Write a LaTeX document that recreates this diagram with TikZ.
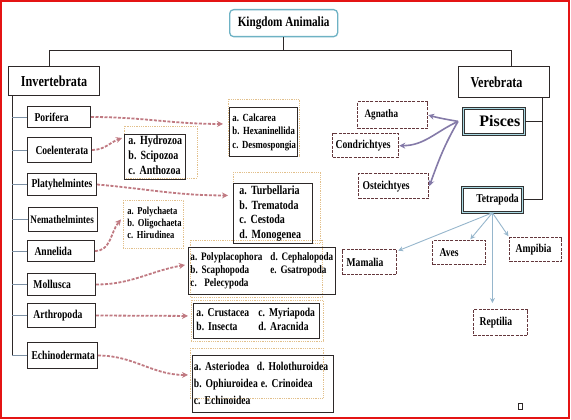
\documentclass[tikz,border=0pt]{standalone}
\usepackage{fontspec}
\setmainfont{Liberation Serif}[FakeStretch=0.8]
\newfontfamily\widefont{Liberation Serif}
\usetikzlibrary{arrows.meta}
\definecolor{rimred}{RGB}{228,20,20}
\definecolor{tealrim}{RGB}{110,178,196}
\definecolor{tealfill}{RGB}{170,218,228}
\definecolor{darkrim}{RGB}{45,40,40}
\definecolor{maroonrim}{RGB}{100,55,60}
\definecolor{twiggrey}{RGB}{125,145,165}
\definecolor{linkrose}{RGB}{192,122,130}
\definecolor{fanviolet}{RGB}{132,122,168}
\definecolor{fanblue}{RGB}{150,182,204}
\definecolor{dotorange}{RGB}{226,192,140}
\newcommand{\listrows}[1]{\begin{tabular}{@{}l@{}}#1\end{tabular}}
\tikzset{
  every node/.style={execute at begin node={\frenchspacing\hyphenpenalty=10000}},
  trunk/.style={draw=darkrim, line width=0.9pt},
  twig/.style={draw=twiggrey, line width=0.9pt},
  root/.style={draw=tealrim, line width=1.3pt, rounded corners=4pt, fill=white, inner sep=0pt, font=\bfseries\fontsize{14}{16}\selectfont},
  phylum/.style={draw=darkrim, line width=1.1pt, fill=white, inner sep=0pt, font=\bfseries\fontsize{15.2}{17}\selectfont},
  leaf/.style={draw=darkrim, line width=1pt, align=left, inner ysep=0pt, font=\bfseries\fontsize{12}{14}\selectfont},
  fishbox/.style={leaf, draw=maroonrim, line width=1.3pt, dash pattern=on 3pt off 1.2pt},
  clade/.style={leaf, draw=black!80, line width=0.8pt, double=tealfill, double distance=1.6pt},
  roster/.style={draw=darkrim, line width=0.9pt, align=left, inner ysep=0pt},
  dotframe/.style={draw=dotorange, line width=0.8pt, densely dotted},
  link/.style={draw=linkrose, line width=1.8pt, dash pattern=on 3pt off 1.5pt, -{Stealth[length=6pt,width=6pt]}},
  fan/.style={draw=fanviolet, line width=1.6pt, -{Stealth[length=6pt,width=6pt]}},
  spray/.style={draw=fanblue, line width=0.9pt, shorten >=1pt, -{Stealth[length=5pt,width=5pt]}},
}

\begin{document}
\begin{tikzpicture}[x=1pt,y=-1pt]
\useasboundingbox (0,0) rectangle (571,420);
\draw[dotframe] (228,99) rectangle (299,156);
\draw[dotframe] (124,126) rectangle (197,178);
\draw[dotframe] (233,172) rectangle (320,243);
\draw[dotframe] (190,240) rectangle (322,297);
\draw[dotframe] (191,300) rectangle (323,341);
\draw[dotframe] (190,348) rectangle (323,398);

\node[root, anchor=north west, minimum width=108pt, minimum height=27pt] (kingdom) at (229,9) {Kingdom Animalia};
\node[phylum, anchor=north west, minimum width=91pt, minimum height=29pt] (inv) at (8,66) {Invertebrata};
\node[phylum, anchor=north west, align=left, inner xsep=12pt, text width=67pt, minimum height=31pt] (vert) at (458,66) {Verebrata};

\node[leaf, anchor=north west, inner xsep=7pt, text width=49pt, minimum height=21pt] (pori) at (27,106) {Porifera};
\node[leaf, anchor=north west, inner xsep=8pt, text width=48pt, minimum height=25pt] (coel) at (27,137) {Coelenterata};
\node[leaf, anchor=north west, inner xsep=4pt, text width=61pt, minimum height=22pt] (plat) at (27,173) {Platyhelmintes};
\node[leaf, anchor=north west, inner xsep=2pt, text width=65pt, minimum height=24pt, font=\bfseries\fontsize{11.4}{13}\selectfont] (nema) at (28,207) {Nemathelmintes};
\node[leaf, anchor=north west, inner xsep=7pt, text width=53pt, minimum height=21pt] (anne) at (27,240) {Annelida};
\node[leaf, anchor=north west, inner xsep=6pt, text width=56pt, minimum height=22pt] (moll) at (27,273) {Mollusca};
\node[leaf, anchor=north west, inner xsep=6pt, text width=56pt, minimum height=24pt] (arth) at (27,303) {Arthropoda};
\node[leaf, anchor=north west, inner xsep=4pt, text width=62pt, minimum height=26pt] (echi) at (27,342) {Echinodermata};

\node[roster, anchor=north west, inner xsep=3pt, text width=62pt, minimum height=49pt, font=\bfseries\fontsize{10.9}{13.5}\selectfont] (calc) at (229,107) {\listrows{a. Calcarea\\b. Hexaninellida\\c. Desmospongia}};
\node[roster, anchor=north west, inner xsep=4pt, text width=53pt, minimum height=44pt, font=\bfseries\fontsize{12.5}{15}\selectfont] (hydr) at (124,134) {\listrows{a. Hydrozoa\\b. Scipozoa\\c. Anthozoa}};
\node[roster, anchor=north west, inner xsep=6pt, text width=67pt, minimum height=60pt, font=\bfseries\fontsize{12.5}{14.7}\selectfont] (turb) at (233,183) {\listrows{a. Turbellaria\\b. Trematoda\\c. Cestoda\\d. Monogenea}};
\node[roster, dotframe, anchor=north west, inner xsep=4pt, text width=52pt, minimum height=48pt, font=\bfseries\fontsize{10.7}{12}\selectfont] (poly) at (123,200) {\listrows{a. Polychaeta\\b. Oligochaeta\\c. Hirudinea}};
\node[roster, anchor=north west, inner xsep=2pt, text width=143pt, minimum height=47pt, font=\bfseries\fontsize{11.4}{13}\selectfont] (mlst) at (188,247) {\listrows{\makebox[80pt][l]{a. Polyplacophora}d. Cephalopoda\\\makebox[80pt][l]{b. Scaphopoda}e. Gsatropoda\\c.\ \ Pelecypoda}};
\node[roster, anchor=north west, inner xsep=3pt, text width=120pt, minimum height=35pt, font=\bfseries\fontsize{12}{13.5}\selectfont] (alst) at (193,303) {\listrows{\makebox[62pt][l]{a. Crustacea}c. Myriapoda\\\makebox[62pt][l]{b. Insecta}d. Aracnida}};
\node[roster, anchor=north west, inner xsep=1.5pt, text width=138pt, minimum height=57pt, font=\bfseries\fontsize{12}{17}\selectfont] (elst) at (192,355) {\listrows{\makebox[63pt][l]{a. Asteriodea}d. Holothuroidea\\\makebox[63pt][l]{b. Ophiuroidea}\hspace{4pt}e. Crinoidea\\c. Echinoidea}};

\node[clade, anchor=north west, inner xsep=16pt, text width=29pt, minimum height=26pt, font=\widefont\bfseries\fontsize{16}{18}\selectfont] (pisc) at (463,108) {Pisces};
\node[clade, anchor=north west, inner xsep=14pt, text width=32pt, minimum height=25pt] (tetra) at (462,187) {Tetrapoda};
\node[fishbox, anchor=north west, inner xsep=7pt, text width=56pt, minimum height=27pt, font=\bfseries\fontsize{11.4}{13}\selectfont] (agna) at (357,101) {Agnatha};
\node[fishbox, anchor=north west, inner xsep=3pt, text width=60pt, minimum height=24pt] (cond) at (332,133) {Condrichtyes};
\node[fishbox, anchor=north west, inner xsep=4pt, text width=62pt, minimum height=25pt] (oste) at (358,173) {Osteichtyes};
\node[fishbox, anchor=north west, inner xsep=4pt, text width=46pt, minimum height=25pt] (mamm) at (342,249) {Mamalia};
\node[fishbox, anchor=north west, inner xsep=7pt, text width=39pt, minimum height=24pt] (aves) at (432,240) {Aves};
\node[fishbox, anchor=north west, inner xsep=6pt, text width=40pt, minimum height=24pt] (ampi) at (509,237) {Ampibia};
\node[fishbox, anchor=north west, inner xsep=6pt, text width=42pt, minimum height=26pt] (rept) at (473,309) {Reptilia};

\draw[trunk] (kingdom.south) -- ++(0,13) -| ([xshift=-5pt]inv.north);
\draw[trunk] (kingdom.south) -- ++(0,13) -| ([xshift=7pt]vert.north);
\coordinate (spine) at ([xshift=4pt]inv.south west);
\draw[trunk] (spine) -- (spine |- echi.west);
\foreach \n in {pori,coel,plat,nema,anne,moll,arth,echi}
  \draw[twig] (\n.west) -- (\n.west -| spine);
\coordinate (rspine) at ([xshift=-8pt]vert.south east);
\draw[trunk] (rspine) |- (tetra.east);
\draw[trunk] (pisc.east) -- (pisc.east -| rspine);

\draw[link] (pori.east) to[out=0,in=180] ([xshift=-6pt,yshift=8pt]calc.west);
\draw[link] (coel.east) to[out=0,in=200] ([xshift=-2pt,yshift=-4pt]hydr.north west);
\draw[link] (plat.east) to[out=-5,in=180] ([xshift=-5pt,yshift=18pt]turb.west);
\draw[link] (anne.east) to[out=0,in=230] ([xshift=-2pt,yshift=5pt]poly.west);
\draw[link] (moll.east) to[out=0,in=190] ([xshift=-3pt,yshift=6pt]mlst.west);
\draw[link] (arth.east) -- ([xshift=-5pt,yshift=5pt]alst.west);
\draw[link] (echi.east) to[out=0,in=180] ([xshift=-4pt,yshift=9pt]elst.west);

\draw[fan] ([xshift=-5pt]pisc.west) to[out=170,in=-15] (agna.east);
\draw[fan] ([xshift=-5pt]pisc.west) to[out=205,in=0] (cond.east);
\draw[fan] ([xshift=-5pt]pisc.west) to[out=240,in=70] (oste.east);
\draw[spray] (tetra.south) -- (mamm);
\draw[spray] (tetra.south) -- (aves);
\draw[spray] (tetra.south) -- (ampi.north west);
\draw[spray, shorten >=6pt] (tetra.south) -- (tetra.south |- rept.north);

\draw[darkrim, line width=0.7pt] (518,403) rectangle (522,409);
\draw[rimred, line width=2pt] (1,1) rectangle (569,418);
\end{tikzpicture}
\end{document}
